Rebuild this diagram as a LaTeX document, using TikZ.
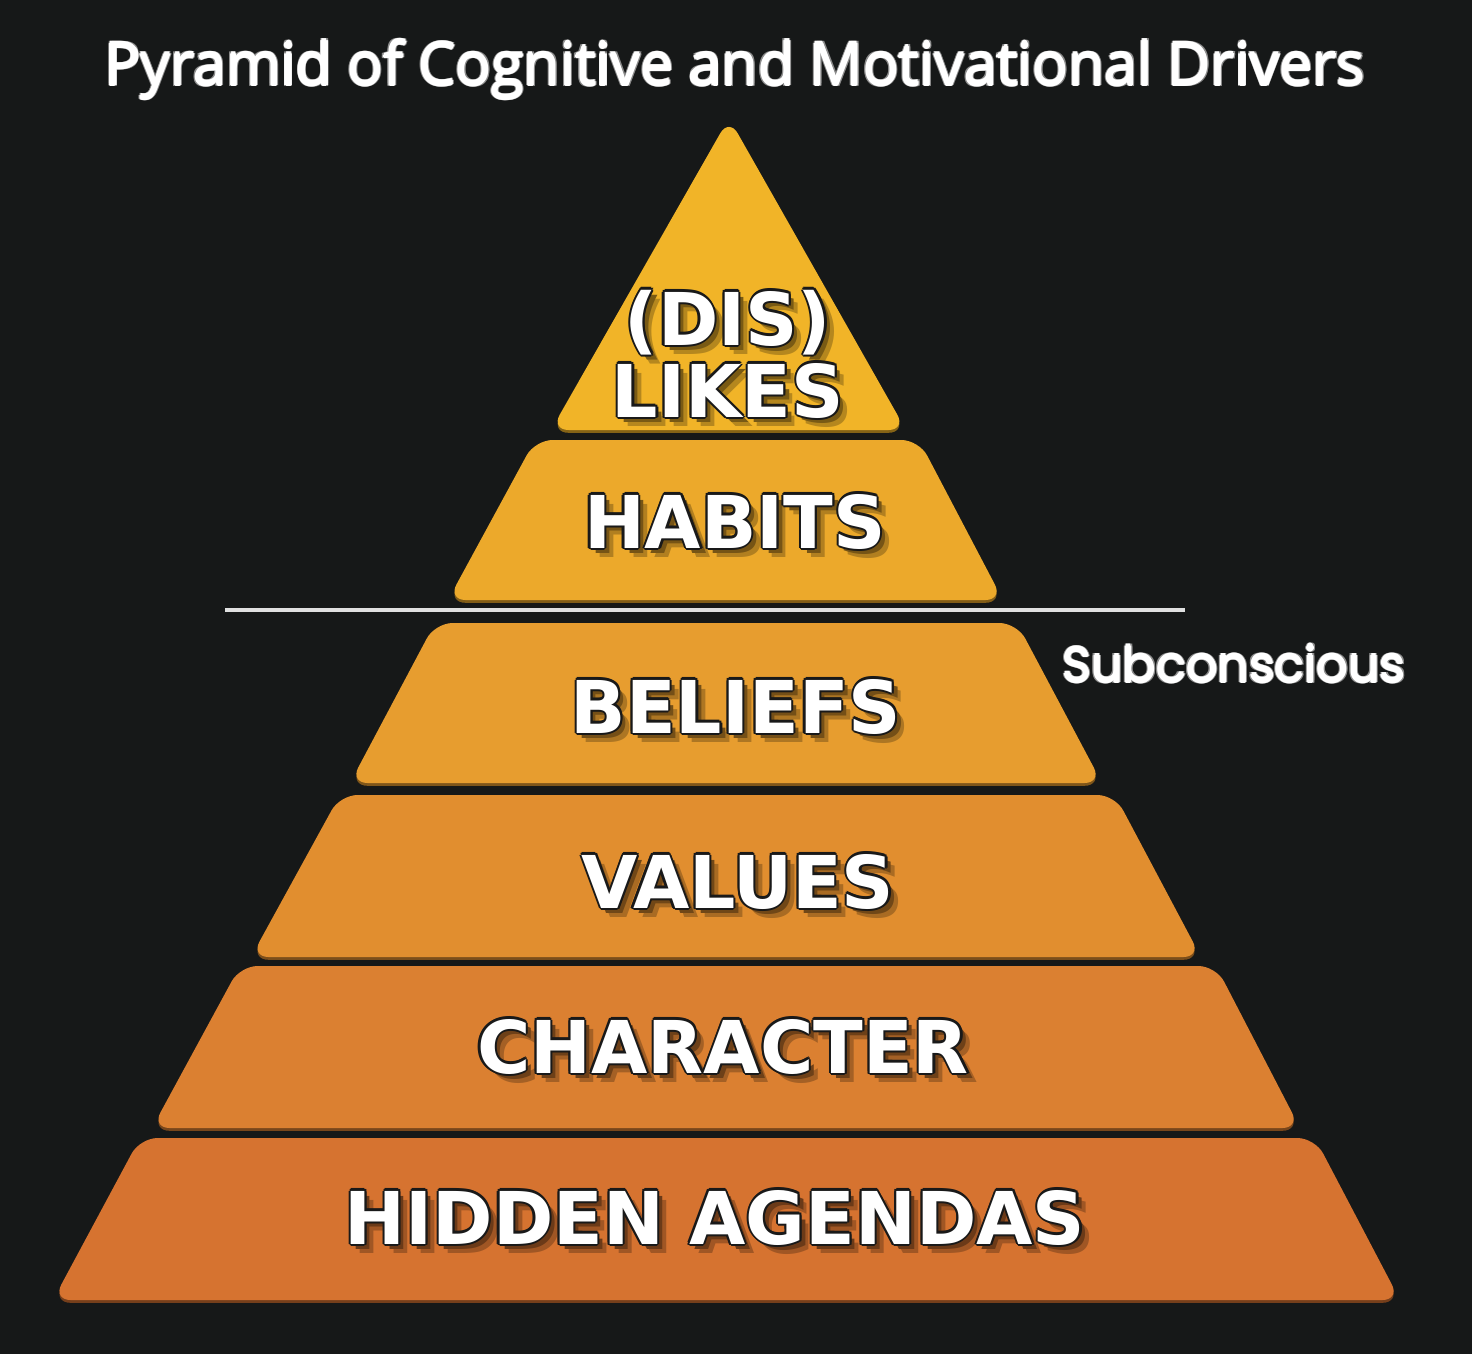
\documentclass[tikz,border=0pt]{standalone}
\usepackage{fontspec}
\setmainfont{DejaVu Sans}
\newfontfamily\titlefont{Open Sans}
\newfontfamily\notefont{Poppins}
\definecolor{bgdark}{HTML}{161818}
\definecolor{lay1}{HTML}{F1B428}
\definecolor{lay2}{HTML}{ECA92B}
\definecolor{lay3}{HTML}{E79D2F}
\definecolor{lay4}{HTML}{E18E2F}
\definecolor{lay5}{HTML}{DB8031}
\definecolor{lay6}{HTML}{D67330}
\newcommand\glowtext[2]{%
  \makebox[0pt][l]{\hspace{2.6pt}\raisebox{-2.6pt}{\color{lay#1!75!black}#2}}%
  \makebox[0pt][l]{\hspace{1.5pt}\raisebox{-1.5pt}{\color{lay#1!50!black}#2}}%
  \foreach \dx/\dy in {0.6/0,-0.6/0,0/0.6,0/-0.6,0.42/0.42,-0.42/0.42,0.42/-0.42,-0.42/-0.42}{%
    \makebox[0pt][l]{\hspace{\dx pt}\raisebox{\dy pt}{\color{black!90}#2}}}%
  {\color{white}#2}}
\newcommand\thicktext[1]{%
  \foreach \dx/\dy in {0.55/0,-0.55/0,0/0.55,0/-0.55,0.4/0.4,-0.4/0.4,0.4/-0.4,-0.4/-0.4}{%
    \makebox[0pt][l]{\hspace{\dx pt}\raisebox{\dy pt}{\color{white!55!black}#1}}}%
  \foreach \dx/\dy in {0.3/0,-0.3/0,0/0.3,0/-0.3}{%
    \makebox[0pt][l]{\hspace{\dx pt}\raisebox{\dy pt}{\color{white}#1}}}%
  {\color{white}#1}}

\begin{document}
\begin{tikzpicture}[x=0.01cm,y=-0.01cm,
  layer/.style={rounded corners=5pt},
  drop/.style={rounded corners=5pt,yshift=-0.8pt},
  tier/.style={font=\bfseries\fontsize{20.7}{25}\selectfont,anchor=base,inner sep=0pt}]
\fill[bgdark] (0,0) rectangle (1472,1354);
\node[font=\titlefont\fontsize{16.8}{20}\selectfont,anchor=base] (title) at (735,85) {\thicktext{Pyramid of Cognitive and Motivational Drivers}};
\fill[drop,lay1!55!black] (729,118) -- (906,430) -- (551,430) -- cycle;
\fill[layer,lay1] (729,118) -- (906,430) -- (551,430) -- cycle;
\fill[drop,lay2!55!black] (535,440) -- (919,440) -- (1003,600) -- (448,600) -- cycle;
\fill[layer,lay2] (535,440) -- (919,440) -- (1003,600) -- (448,600) -- cycle;
\fill[drop,lay3!55!black] (435,623) -- (1017,623) -- (1102,783) -- (350,783) -- cycle;
\fill[layer,lay3] (435,623) -- (1017,623) -- (1102,783) -- (350,783) -- cycle;
\fill[drop,lay4!55!black] (340,795) -- (1115,795) -- (1201,957) -- (251,957) -- cycle;
\fill[layer,lay4] (340,795) -- (1115,795) -- (1201,957) -- (251,957) -- cycle;
\fill[drop,lay5!55!black] (240,966) -- (1216,966) -- (1300,1128) -- (152,1128) -- cycle;
\fill[layer,lay5] (240,966) -- (1216,966) -- (1300,1128) -- (152,1128) -- cycle;
\fill[drop,lay6!55!black] (140,1138) -- (1315,1138) -- (1400,1300) -- (53,1300) -- cycle;
\fill[layer,lay6] (140,1138) -- (1315,1138) -- (1400,1300) -- (53,1300) -- cycle;
\node[tier] (dis) at (728,345) {\glowtext{1}{(DIS)}};
\node[tier] (likes) at (728,417) {\glowtext{1}{LIKES}};
\node[tier] (habits) at (735,548) {\glowtext{2}{HABITS}};
\node[tier] (beliefs) at (736,733) {\glowtext{3}{BELIEFS}};
\node[tier] (values) at (738,908) {\glowtext{4}{VALUES}};
\node[tier] (character) at (723,1073) {\glowtext{5}{CHARACTER}};
\node[tier] (hidden) at (715,1244) {\glowtext{6}{HIDDEN AGENDAS}};
\coordinate (lineL) at (225,610);
\coordinate (lineR) at (1185,610);
\draw[white!88!black,line width=1.2pt] (lineL) -- (lineR);
\node[font=\notefont\fontsize{14}{17}\selectfont,anchor=base] (sub) at (1234,682) {\thicktext{Subconscious}};
\end{tikzpicture}
\end{document}
